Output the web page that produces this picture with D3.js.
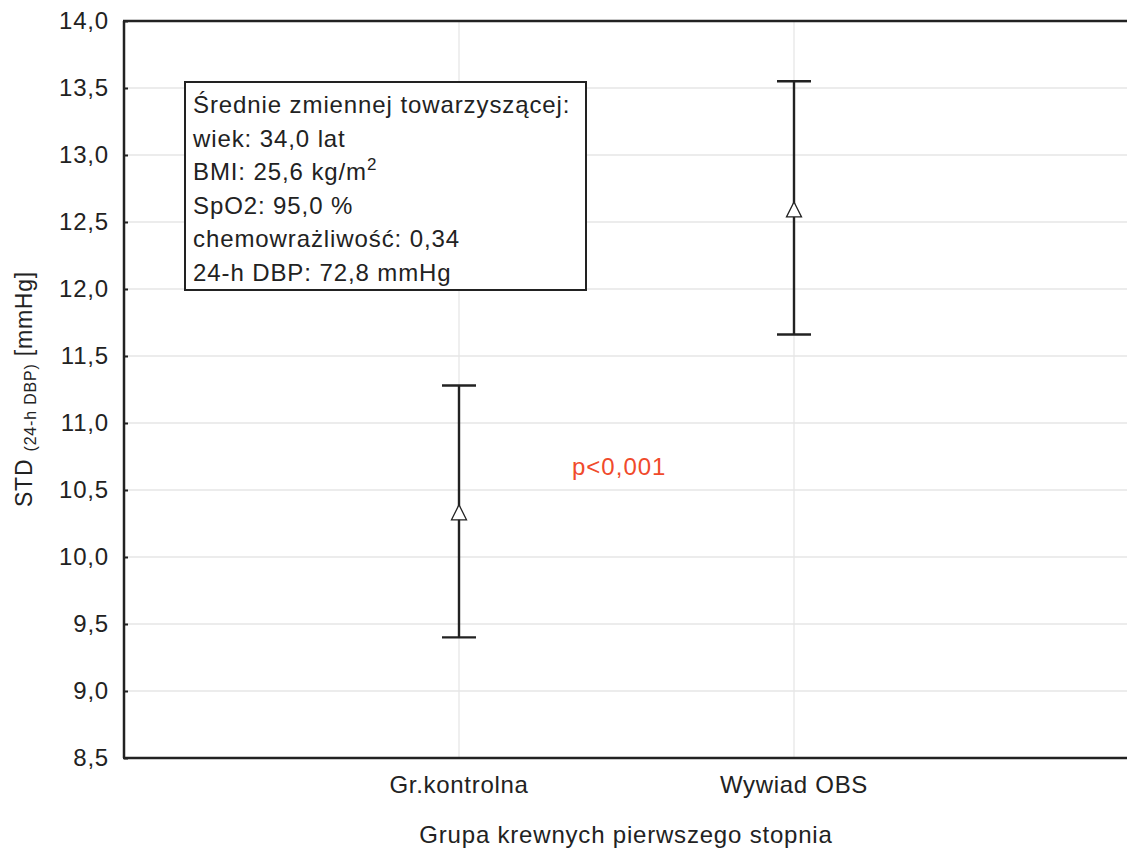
<!DOCTYPE html>
<html>
<head>
<meta charset="utf-8">
<title>STD 24-h DBP</title>
<style>
  body { margin: 0; background: #fff; }
  svg text { font-family: "Liberation Sans", Arial, Helvetica, sans-serif; fill: #222; }
</style>
</head>
<body>
<script src="https://d3js.org/d3.v7.min.js"></script>
<script>
    // values
    var groups = ["Gr.kontrolna", "Wywiad OBS"];
    var means = [10.33, 12.59];
    var lowers = [9.40, 11.66];
    var uppers = [11.28, 13.55];
    var yTicks = [8.5, 9.0, 9.5, 10.0, 10.5, 11.0, 11.5, 12.0, 12.5, 13.0, 13.5, 14.0];
    var legendLines = [
        "Średnie zmiennej towarzyszącej:",
        "wiek: 34,0 lat",
        "BMI: 25,6 kg/m",
        "SpO2: 95,0 %",
        "chemowrażliwość: 0,34",
        "24-h DBP: 72,8 mmHg"
    ];
    var pText = "p<0,001";

    var W = 1127, H = 850;
    var margin = {top: 21, right: -2, bottom: 92, left: 124};
    var width = W - margin.left - margin.right;
    var height = H - margin.top - margin.bottom;

    var svg = d3.select("body").append("svg")
        .attr("width", W)
        .attr("height", H);

    var g = svg.append("g")
        .attr("transform", `translate(${margin.left},${margin.top})`);

    var x = d3.scalePoint().domain(groups).range([0, width]).padding(1);
    var y = d3.scaleLinear().domain([8.5, 14.0]).range([height, 0]);

    // grid
    g.append("g").selectAll("line.h")
        .data(yTicks.slice(1, -1))
        .join("line")
        .attr("x1", 0).attr("x2", width)
        .attr("y1", d => y(d)).attr("y2", d => y(d))
        .attr("stroke", "#e6e6e6").attr("stroke-width", 1.3);

    g.append("g").selectAll("line.v")
        .data(groups)
        .join("line")
        .attr("x1", d => x(d)).attr("x2", d => x(d))
        .attr("y1", 0).attr("y2", height)
        .attr("stroke", "#e6e6e6").attr("stroke-width", 1.3);

    // y axis
    var yAxis = g.append("g")
        .call(d3.axisLeft(y).tickValues(yTicks).tickSize(-4).tickPadding(15)
            .tickFormat(d => d3.format(".1f")(d).replace(".", ",")));
    yAxis.select(".domain").remove();
    yAxis.selectAll(".tick line").attr("stroke", "#222").attr("stroke-width", 2);
    yAxis.selectAll(".tick text")
        .style("font-size", "24px").style("letter-spacing", "0.8px")
        .attr("fill", "#222");

    // category labels
    g.append("g").selectAll("text")
        .data(groups)
        .join("text")
        .attr("x", d => x(d))
        .attr("y", height + 35)
        .attr("text-anchor", "middle")
        .style("font-size", "24px").style("letter-spacing", "0.7px")
        .text(d => d);

    // frame
    g.append("line").attr("x1", 0).attr("x2", 0).attr("y1", 0).attr("y2", height)
        .attr("stroke", "#222").attr("stroke-width", 2.5);
    g.append("line").attr("x1", -1).attr("x2", width).attr("y1", height).attr("y2", height)
        .attr("stroke", "#222").attr("stroke-width", 2.5);
    g.append("line").attr("x1", -1).attr("x2", width).attr("y1", 0).attr("y2", 0)
        .attr("stroke", "#222").attr("stroke-width", 2.5);

    // error bars
    var bars = g.append("g").selectAll("g")
        .data(groups)
        .join("g");

    bars.append("line")
        .attr("x1", d => x(d)).attr("x2", d => x(d))
        .attr("y1", (d, i) => y(uppers[i])).attr("y2", (d, i) => y(lowers[i]))
        .attr("stroke", "#222").attr("stroke-width", 2.4);
    bars.append("line")
        .attr("x1", d => x(d) - 17).attr("x2", d => x(d) + 17)
        .attr("y1", (d, i) => y(uppers[i])).attr("y2", (d, i) => y(uppers[i]))
        .attr("stroke", "#222").attr("stroke-width", 2.4);
    bars.append("line")
        .attr("x1", d => x(d) - 17).attr("x2", d => x(d) + 17)
        .attr("y1", (d, i) => y(lowers[i])).attr("y2", (d, i) => y(lowers[i]))
        .attr("stroke", "#222").attr("stroke-width", 2.4);

    // mean markers (open triangles)
    bars.append("path")
        .attr("d", (d, i) => {
            var cx = x(d), cy = y(means[i]);
            return `M${cx},${cy - 8} L${cx + 7.5},${cy + 7} L${cx - 7.5},${cy + 7} Z`;
        })
        .attr("fill", "#fff").attr("stroke", "#222").attr("stroke-width", 1.3);

    // legend box
    var lg = svg.append("g").attr("transform", "translate(185,82)");
    lg.append("rect")
        .attr("width", 401).attr("height", 208)
        .attr("fill", "#fff").attr("stroke", "#222").attr("stroke-width", 2);
    var lt = lg.selectAll("text")
        .data(legendLines)
        .join("text")
        .attr("x", 8)
        .attr("y", (d, i) => 31 + i * 33.5)
        .style("font-size", "24px").style("letter-spacing", "0.9px")
        .text(d => d);
    lt.filter((d, i) => i == 2).append("tspan")
        .attr("dy", -10).style("font-size", "17px").text("2");

    // p value
    svg.append("text")
        .attr("x", 572).attr("y", 475)
        .style("font-size", "24px").style("letter-spacing", "1px")
        .style("fill", "#f04a2b")
        .text(pText);

    // axis titles
    svg.append("text")
        .attr("x", 626).attr("y", 843)
        .attr("text-anchor", "middle")
        .style("font-size", "24px").style("letter-spacing", "0.8px")
        .text("Grupa krewnych pierwszego stopnia");

    var yt = svg.append("text")
        .attr("transform", "translate(32,389) rotate(-90)")
        .attr("text-anchor", "middle")
        .style("font-size", "23px").style("letter-spacing", "0.8px");
    yt.append("tspan").text("STD ");
    yt.append("tspan").attr("dy", 4).style("font-size", "16px").text("(24-h DBP)");
    yt.append("tspan").attr("dy", -4).text(" [mmHg]");
</script>
</body>
</html>
